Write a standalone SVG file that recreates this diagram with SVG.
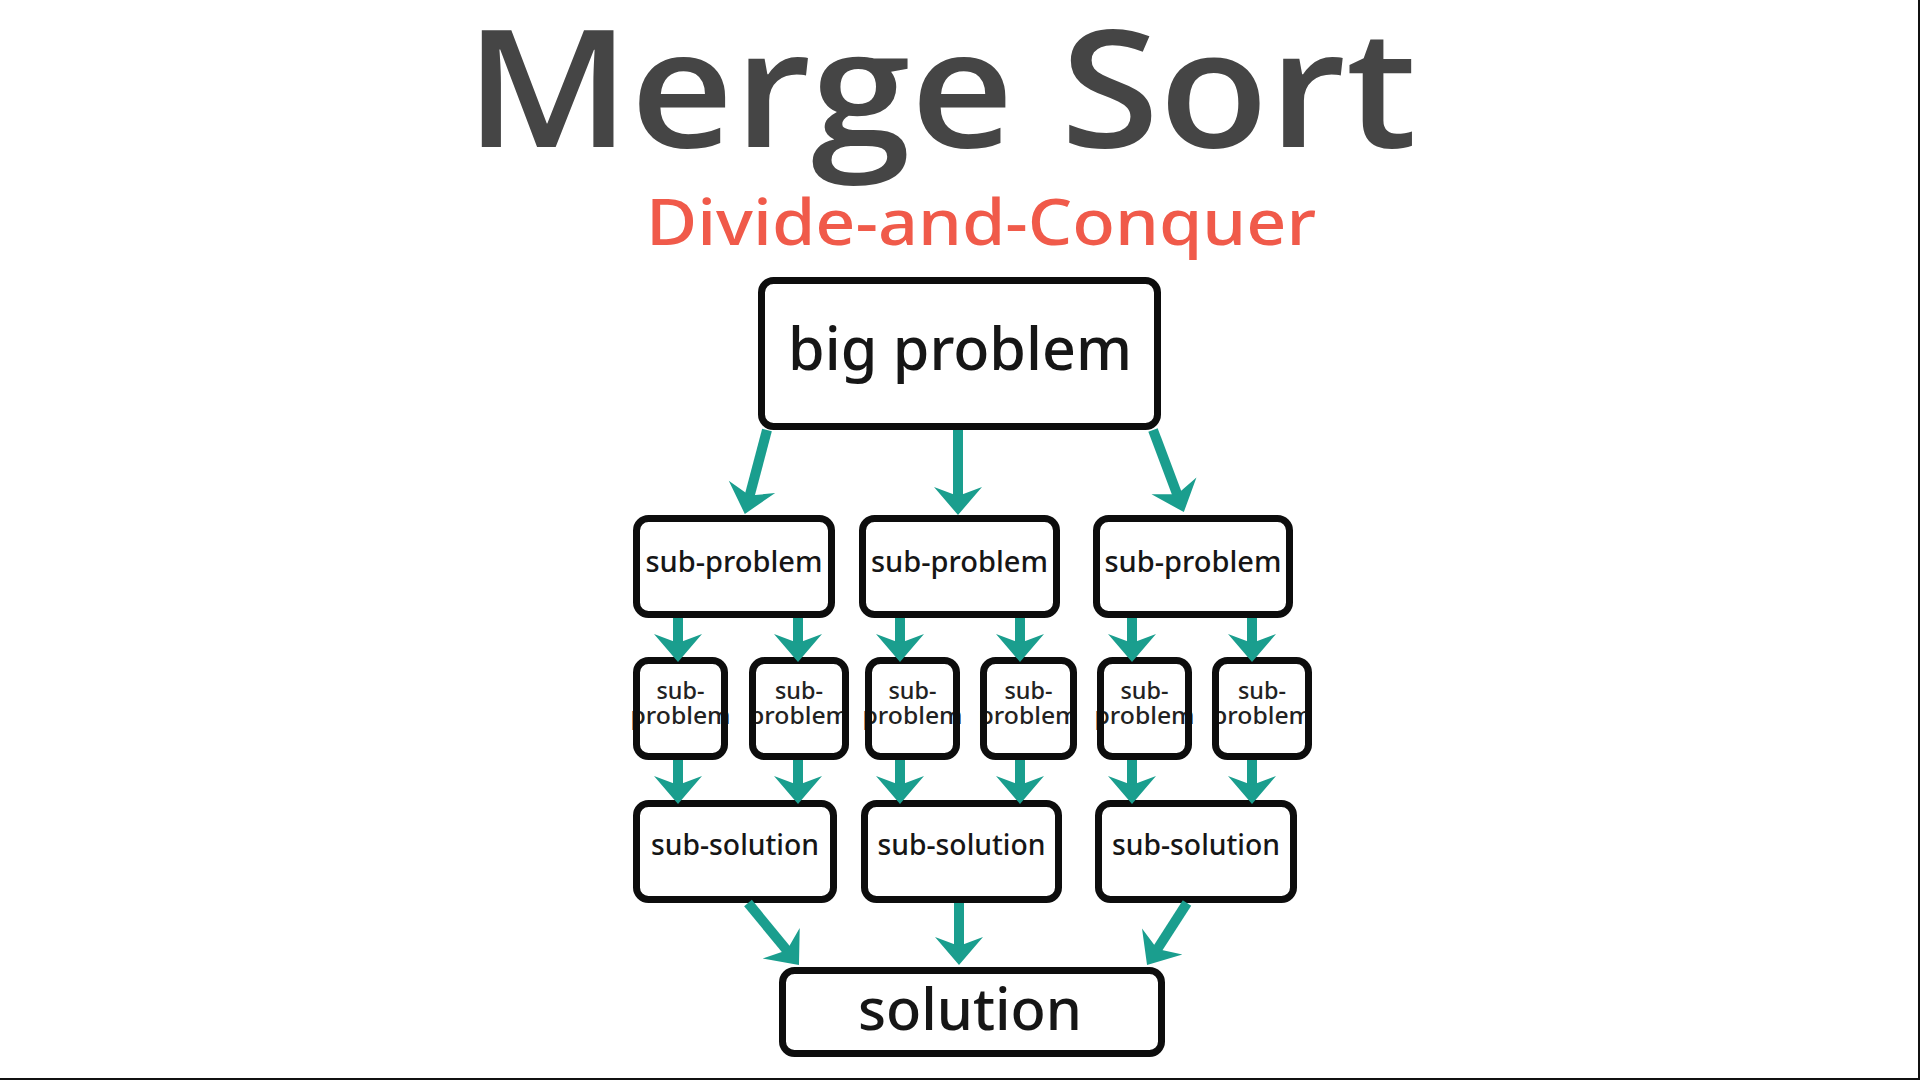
<svg xmlns="http://www.w3.org/2000/svg" width="1920" height="1080" viewBox="0 0 1920 1080">
<style>
  .bg{fill:#ffffff;stroke:none}
  .frame{fill:none;stroke:#0d0d0d;stroke-width:7}
  .lbl{font-family:"Noto Sans","Open Sans","DejaVu Sans",sans-serif;fill:#161616;text-anchor:middle;font-weight:500}
  .sm{fill:#222222}
  .conn line{stroke:#1a9e8e;stroke-width:10;stroke-linecap:butt;marker-end:url(#ah)}
</style>
<defs>
  <marker id="ah" viewBox="-12 -26 34 52" markerWidth="34" markerHeight="52" refX="3" refY="0" orient="auto" markerUnits="userSpaceOnUse">
    <path d="M19,0 L-9,-24 L0,0 L-9,24 Z" fill="#1a9e8e"/>
  </marker>
</defs>
<rect x="0" y="0" width="1920" height="1080" fill="#ffffff"/>
<rect x="1918" y="0" width="2" height="1080" fill="#111"/>
<rect x="0" y="1078" width="1920" height="2" fill="#111"/>

<text x="941" y="147" font-family="Open Sans, Noto Sans, DejaVu Sans, sans-serif" font-size="164" font-weight="600" fill="#454545" text-anchor="middle" textLength="952" lengthAdjust="spacingAndGlyphs">Merge Sort</text>
<text x="981" y="245" font-family="Noto Sans, Open Sans, DejaVu Sans, sans-serif" font-size="64" font-weight="500" fill="#f05a4a" text-anchor="middle" textLength="670" lengthAdjust="spacingAndGlyphs">Divide-and-Conquer</text>

<g id="big-problem">
  <rect class="bg" x="761.5" y="280.5" width="396" height="146" rx="12"/>
  <text class="lbl" x="960" y="370" font-size="60" textLength="344" lengthAdjust="spacingAndGlyphs">big problem</text>
  <rect class="frame" x="761.5" y="280.5" width="396" height="146" rx="12"/>
</g>

<g id="sub-problem-1">
  <rect class="bg" x="636.5" y="518.5" width="195" height="96" rx="12"/>
  <text class="lbl" x="734" y="572" font-size="29" textLength="177" lengthAdjust="spacingAndGlyphs">sub-problem</text>
  <rect class="frame" x="636.5" y="518.5" width="195" height="96" rx="12"/>
</g>
<g id="sub-problem-2">
  <rect class="bg" x="862.5" y="518.5" width="194" height="96" rx="12"/>
  <text class="lbl" x="959.5" y="572" font-size="29" textLength="177" lengthAdjust="spacingAndGlyphs">sub-problem</text>
  <rect class="frame" x="862.5" y="518.5" width="194" height="96" rx="12"/>
</g>
<g id="sub-problem-3">
  <rect class="bg" x="1096.5" y="518.5" width="193" height="96" rx="12"/>
  <text class="lbl" x="1193" y="572" font-size="29" textLength="177" lengthAdjust="spacingAndGlyphs">sub-problem</text>
  <rect class="frame" x="1096.5" y="518.5" width="193" height="96" rx="12"/>
</g>

<g id="leaf-1">
  <rect class="bg" x="636.5" y="660.5" width="88" height="96" rx="12"/>
  <text class="lbl sm" x="680.5" y="699" font-size="23" textLength="48" lengthAdjust="spacingAndGlyphs">sub-</text>
  <text class="lbl sm" x="680.5" y="724" font-size="23" textLength="100" lengthAdjust="spacingAndGlyphs">problem</text>
  <rect class="frame" x="636.5" y="660.5" width="88" height="96" rx="12"/>
</g>
<g id="leaf-2">
  <rect class="bg" x="752.5" y="660.5" width="93" height="96" rx="12"/>
  <text class="lbl sm" x="799" y="699" font-size="23" textLength="48" lengthAdjust="spacingAndGlyphs">sub-</text>
  <text class="lbl sm" x="799" y="724" font-size="23" textLength="100" lengthAdjust="spacingAndGlyphs">problem</text>
  <rect class="frame" x="752.5" y="660.5" width="93" height="96" rx="12"/>
</g>
<g id="leaf-3">
  <rect class="bg" x="868.5" y="660.5" width="88" height="96" rx="12"/>
  <text class="lbl sm" x="912.5" y="699" font-size="23" textLength="48" lengthAdjust="spacingAndGlyphs">sub-</text>
  <text class="lbl sm" x="912.5" y="724" font-size="23" textLength="100" lengthAdjust="spacingAndGlyphs">problem</text>
  <rect class="frame" x="868.5" y="660.5" width="88" height="96" rx="12"/>
</g>
<g id="leaf-4">
  <rect class="bg" x="983.5" y="660.5" width="90" height="96" rx="12"/>
  <text class="lbl sm" x="1028.5" y="699" font-size="23" textLength="48" lengthAdjust="spacingAndGlyphs">sub-</text>
  <text class="lbl sm" x="1028.5" y="724" font-size="23" textLength="100" lengthAdjust="spacingAndGlyphs">problem</text>
  <rect class="frame" x="983.5" y="660.5" width="90" height="96" rx="12"/>
</g>
<g id="leaf-5">
  <rect class="bg" x="1100.5" y="660.5" width="88" height="96" rx="12"/>
  <text class="lbl sm" x="1144.5" y="699" font-size="23" textLength="48" lengthAdjust="spacingAndGlyphs">sub-</text>
  <text class="lbl sm" x="1144.5" y="724" font-size="23" textLength="100" lengthAdjust="spacingAndGlyphs">problem</text>
  <rect class="frame" x="1100.5" y="660.5" width="88" height="96" rx="12"/>
</g>
<g id="leaf-6">
  <rect class="bg" x="1215.5" y="660.5" width="93" height="96" rx="12"/>
  <text class="lbl sm" x="1262" y="699" font-size="23" textLength="48" lengthAdjust="spacingAndGlyphs">sub-</text>
  <text class="lbl sm" x="1262" y="724" font-size="23" textLength="100" lengthAdjust="spacingAndGlyphs">problem</text>
  <rect class="frame" x="1215.5" y="660.5" width="93" height="96" rx="12"/>
</g>

<g id="sub-solution-1">
  <rect class="bg" x="636.5" y="803.5" width="197" height="96" rx="12"/>
  <text class="lbl" x="735" y="855" font-size="28" textLength="168" lengthAdjust="spacingAndGlyphs">sub-solution</text>
  <rect class="frame" x="636.5" y="803.5" width="197" height="96" rx="12"/>
</g>
<g id="sub-solution-2">
  <rect class="bg" x="864.5" y="803.5" width="194" height="96" rx="12"/>
  <text class="lbl" x="961.5" y="855" font-size="28" textLength="168" lengthAdjust="spacingAndGlyphs">sub-solution</text>
  <rect class="frame" x="864.5" y="803.5" width="194" height="96" rx="12"/>
</g>
<g id="sub-solution-3">
  <rect class="bg" x="1098.5" y="803.5" width="195" height="96" rx="12"/>
  <text class="lbl" x="1196" y="855" font-size="28" textLength="168" lengthAdjust="spacingAndGlyphs">sub-solution</text>
  <rect class="frame" x="1098.5" y="803.5" width="195" height="96" rx="12"/>
</g>

<g id="solution">
  <rect class="bg" x="782.5" y="970.5" width="379" height="83" rx="12"/>
  <text class="lbl" x="970" y="1030" font-size="58" textLength="224" lengthAdjust="spacingAndGlyphs">solution</text>
  <rect class="frame" x="782.5" y="970.5" width="379" height="83" rx="12"/>
</g>

<g id="connectors" class="conn">
  <line x1="767" y1="430" x2="748.9" y2="498.5"/>
  <line x1="958" y1="430" x2="958" y2="499"/>
  <line x1="1153" y1="430" x2="1178.2" y2="497.1"/>

  <line x1="678" y1="618" x2="678" y2="646"/>
  <line x1="798" y1="618" x2="798" y2="646"/>
  <line x1="900" y1="618" x2="900" y2="646"/>
  <line x1="1020" y1="618" x2="1020" y2="646"/>
  <line x1="1132" y1="618" x2="1132" y2="646"/>
  <line x1="1252" y1="618" x2="1252" y2="646"/>

  <line x1="678" y1="760" x2="678" y2="788"/>
  <line x1="798" y1="760" x2="798" y2="788"/>
  <line x1="900" y1="760" x2="900" y2="788"/>
  <line x1="1020" y1="760" x2="1020" y2="788"/>
  <line x1="1132" y1="760" x2="1132" y2="788"/>
  <line x1="1252" y1="760" x2="1252" y2="788"/>

  <line x1="748" y1="903" x2="788.8" y2="952.6"/>
  <line x1="959" y1="903" x2="959" y2="949"/>
  <line x1="1187" y1="903" x2="1155.7" y2="951.6"/>
</g>
</svg>
